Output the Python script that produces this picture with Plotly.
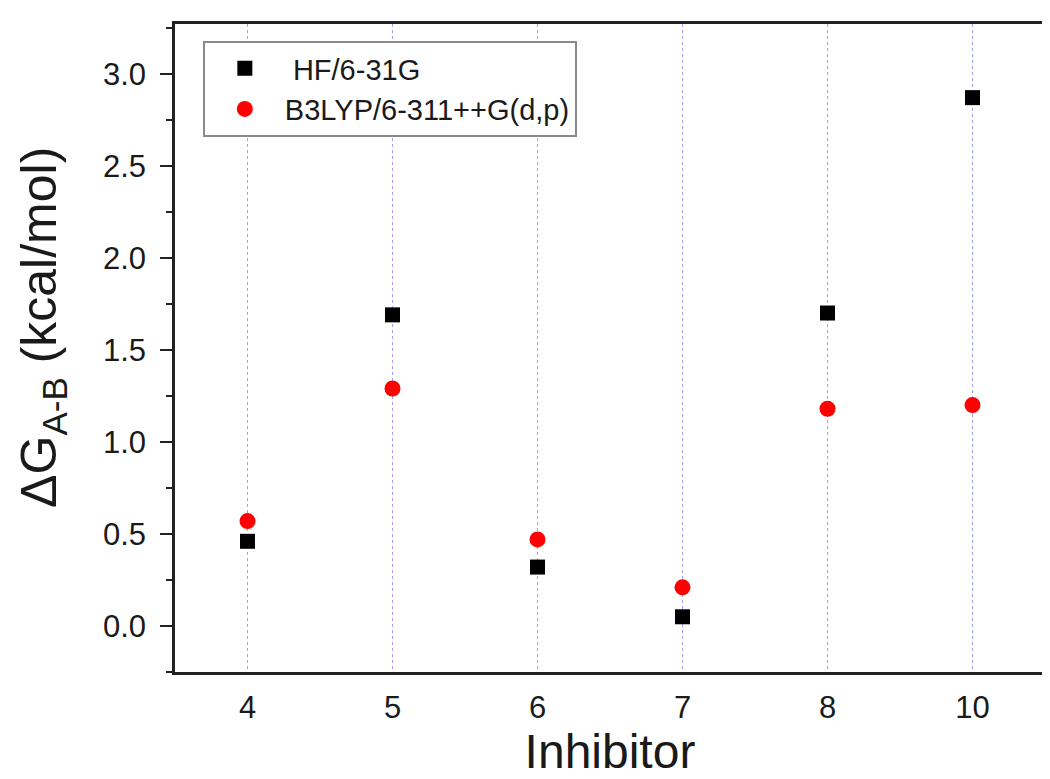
import plotly.graph_objects as go

inhibitors = ["4", "5", "6", "7", "8", "10"]
hf_values = [0.46, 1.69, 0.32, 0.05, 1.70, 2.87]
b3lyp_values = [0.57, 1.29, 0.47, 0.21, 1.18, 1.20]
y_ticks = [0.0, 0.5, 1.0, 1.5, 2.0, 2.5, 3.0]

fig = go.Figure()
fig.add_trace(go.Scatter(
    x=inhibitors, y=hf_values, mode="markers", name=" HF/6-31G",
    marker=dict(symbol="square", size=15, color="black"),
))
fig.add_trace(go.Scatter(
    x=inhibitors, y=b3lyp_values, mode="markers", name="B3LYP/6-311++G(d,p)",
    marker=dict(symbol="circle", size=16, color="#ff0000"),
))

font_family = "Liberation Sans, Arial, sans-serif"
txt = "#1a1a1a"

fig.update_layout(
    width=1050, height=779,
    margin=dict(l=167, r=13, t=16, b=115),
    paper_bgcolor="white", plot_bgcolor="white",
    font=dict(family=font_family, color=txt),
    showlegend=True,
    legend=dict(
        x=0.032, y=0.974, xanchor="left", yanchor="top",
        bordercolor="#8a8a8a", borderwidth=2, bgcolor="white",
        font=dict(size=29, family=font_family, color=txt),
        itemwidth=70, tracegroupgap=0,
    ),
    xaxis=dict(
        type="category", categoryorder="array", categoryarray=inhibitors,
        range=[-0.5, 5.5], automargin=False,
        showgrid=True, gridcolor="#a0a0f0", griddash="dot", gridwidth=1.2,
        showline=True, linecolor="#222222", linewidth=2.5, mirror=True,
        ticks="", tickfont=dict(size=31, color=txt), ticklabelstandoff=6,
        title=dict(text="Inhibitor", font=dict(size=48, color=txt), standoff=11),
        zeroline=False,
    ),
    yaxis=dict(
        range=[-0.25, 3.27], automargin=False,
        tickvals=y_ticks, tickformat=".1f",
        showgrid=False, zeroline=False,
        showline=True, linecolor="#222222", linewidth=2.5, mirror=True,
        ticks="outside", ticklen=12, tickwidth=2, tickcolor="#222222",
        tickfont=dict(size=31, color=txt), ticklabelstandoff=8,
        minor=dict(dtick=0.25, tick0=0, ticks="outside", ticklen=6, tickwidth=2,
                   tickcolor="#222222", showgrid=False),
    ),
    annotations=[dict(
        text="ΔG<sub>A-B</sub> (kcal/mol)", textangle=-90,
        xref="paper", yref="paper", x=0, y=0.531,
        xshift=-132, xanchor="center", yanchor="middle", showarrow=False,
        font=dict(size=50, color=txt, family=font_family),
    )],
)

fig.write_html("out.html")
